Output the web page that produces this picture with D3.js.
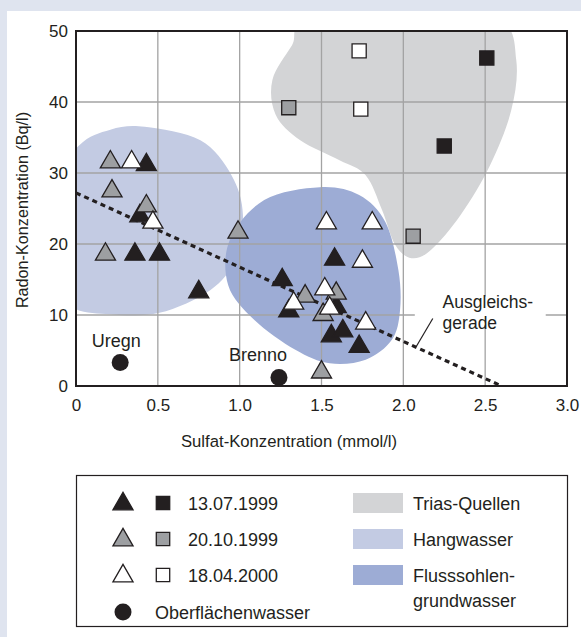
<!DOCTYPE html>
<html>
<head>
<meta charset="utf-8">
<script src="https://cdn.jsdelivr.net/npm/d3@7"></script>
<style>
	body { margin: 0; background: #ffffff; }
	svg { display: block; font-family: "Liberation Sans", Arial, sans-serif; }
</style>
</head>
<body>
<div id="chart"></div>
<script>
// Triangles (Flusssohlen / Hangwasser samples), [sulfat mmol/l, radon Bq/l]
const triangles1999Jul = [[0.43, 31], [0.39, 23.8], [0.36, 18.4], [0.51, 18.4], [0.75, 13.1], [1.26, 14.8], [1.3, 10.4], [1.58, 17.7], [1.59, 11], [1.56, 6.9], [1.63, 7.6], [1.73, 5.4]];
const triangles1999Oct = [[0.21, 31.4], [0.22, 27.3], [0.43, 25.2], [0.18, 18.4], [0.99, 21.5], [1.4, 12.5], [1.59, 12.9], [1.51, 9.9], [1.5, 1.8]];
const triangles2000Apr = [[0.34, 31.4], [0.47, 22.9], [1.53, 22.8], [1.81, 22.8], [1.75, 17.4], [1.33, 11.5], [1.52, 13.5], [1.55, 10.8], [1.77, 8.7]];
// Squares (Trias-Quellen)
const squares1999Jul = [[2.51, 46.2], [2.25, 33.8]];
const squares1999Oct = [[1.3, 39.2], [2.06, 21.1]];
const squares2000Apr = [[1.73, 47.2], [1.74, 39]];
// Oberflaechenwasser
const surfaceWater = [{ name: "Uregn", x: 0.27, y: 3.3 }, { name: "Brenno", x: 1.24, y: 1.2 }];
// Ausgleichsgerade end points
const regression = [[0, 27.2], [2.6, 0]];

// outlines of the shaded zones (data coordinates)
const triasZone = [[1.42, 51.5], [2.1, 52.3], [2.59, 51.5], [2.69, 45.9], [2.66, 38.9], [2.53, 31.1], [2.35, 24.1], [2.17, 19.2], [2.05, 18], [1.95, 19.9], [1.87, 24.8], [1.77, 29.7], [1.61, 31.8], [1.37, 34.6], [1.22, 38.2], [1.2, 43.1], [1.32, 48]];
const hangZone = [[0.42, 36.5], [0.76, 34.6], [0.95, 29.7], [1.02, 24.1], [0.97, 17.7], [0.82, 13.5], [0.51, 10.3], [0.21, 10.1], [-0.04, 11.4], [-0.16, 17.7], [-0.16, 27.6], [0.02, 33.9], [0.21, 36.1]];
const flussZone = [[1.49, 28], [1.73, 26.9], [1.89, 23.1], [1.97, 16.3], [1.98, 10.7], [1.93, 6.5], [1.77, 3.7], [1.55, 3.2], [1.34, 5.1], [1.09, 9.3], [0.93, 14.2], [0.94, 20.6], [1.15, 26.2]];

const xTicks = [0, 0.5, 1.0, 1.5, 2.0, 2.5, 3.0];
const yTicks = [0, 10, 20, 30, 40, 50];
const dateLabels = ["13.07.1999", "20.10.1999", "18.04.2000"];
const zoneLabels = [["Trias-Quellen"], ["Hangwasser"], ["Flusssohlen-", "grundwasser"]];

const dark = "#231f20";
const markerFills = [dark, "#9d9fa2", "#ffffff"];
const zoneFills = ["#d3d4d6", "#c3cbe3", "#9dacd5"];

const width = 581, height = 637;
const margin = { left: 76, right: 14, top: 31, bottom: 251 };

const svg = d3.select("#chart").append("svg").attr("width", width).attr("height", height);

// light frame along top and left
svg.append("rect").attr("width", width).attr("height", height).attr("fill", "#dfe4ef");
svg.append("rect").attr("x", 7).attr("y", 11).attr("width", width - 7).attr("height", height - 11).attr("fill", "#ffffff");

const x = d3.scaleLinear().domain([0, 3]).range([margin.left, width - margin.right]);
const y = d3.scaleLinear().domain([0, 50]).range([height - margin.bottom, margin.top]);

svg.append("clipPath").attr("id", "plot-clip")
	.append("rect")
	.attr("x", x(0)).attr("y", y(50))
	.attr("width", x(3) - x(0)).attr("height", y(0) - y(50));

const plot = svg.append("g").attr("clip-path", "url(#plot-clip)");

const blob = d3.line().x((d) => x(d[0])).y((d) => y(d[1])).curve(d3.curveCardinalClosed.tension(0));
[triasZone, hangZone, flussZone].forEach((zone, i) => {
	plot.append("path").attr("d", blob(zone)).attr("fill", zoneFills[i]);
});

// grid
const grid = svg.append("g").attr("stroke", "#a3a3a3").attr("stroke-width", 1.3);
grid.selectAll(".gx").data(xTicks.slice(1, -1)).enter().append("line")
	.attr("x1", (d) => x(d)).attr("x2", (d) => x(d)).attr("y1", y(0)).attr("y2", y(50));
grid.selectAll(".gy").data(yTicks.slice(1, -1)).enter().append("line")
	.attr("x1", x(0)).attr("x2", x(3)).attr("y1", (d) => y(d)).attr("y2", (d) => y(d));

// label for the regression line, knocks out the grid behind it
const fitLabel = svg.append("g");
fitLabel.append("rect").attr("x", x(2.07)).attr("y", y(12.6)).attr("width", x(2.87) - x(2.07)).attr("height", y(8.6) - y(12.6)).attr("fill", "#ffffff");
fitLabel.append("text").attr("x", x(2.24)).attr("y", y(11)).attr("font-size", 17.5).attr("fill", dark).text("Ausgleichs-");
fitLabel.append("text").attr("x", x(2.24)).attr("y", y(8.0)).attr("font-size", 17.5).attr("fill", dark).text("gerade");
svg.append("line")
	.attr("x1", x(2.18)).attr("y1", y(9.5)).attr("x2", x(2.08)).attr("y2", y(5.6))
	.attr("stroke", dark).attr("stroke-width", 1.2);

// regression line
svg.append("path")
	.attr("d", d3.line().x((d) => x(d[0])).y((d) => y(d[1]))(regression))
	.attr("fill", "none").attr("stroke", dark).attr("stroke-width", 3.2)
	.attr("stroke-dasharray", "5,4");

// frame
svg.append("rect")
	.attr("x", x(0)).attr("y", y(50)).attr("width", x(3) - x(0)).attr("height", y(0) - y(50))
	.attr("fill", "none").attr("stroke", dark).attr("stroke-width", 2);

// axes
const xAxis = d3.axisBottom(x).tickValues(xTicks).tickSize(0).tickPadding(13).tickFormat((d) => (d === 0 ? "0" : d3.format(".1f")(d)));
svg.append("g").attr("transform", `translate(0,${y(0)})`).call(xAxis)
	.call((g) => g.select(".domain").remove())
	.selectAll("text").attr("font-size", 17).attr("fill", dark).attr("font-family", "Liberation Sans, Arial, sans-serif");

const yAxis = d3.axisLeft(y).tickValues(yTicks).tickSize(0).tickPadding(8);
svg.append("g").attr("transform", `translate(${x(0)},0)`).call(yAxis)
	.call((g) => g.select(".domain").remove())
	.selectAll("text").attr("font-size", 17).attr("fill", dark).attr("font-family", "Liberation Sans, Arial, sans-serif");

svg.append("text").attr("x", 289).attr("y", 447).attr("text-anchor", "middle")
	.attr("font-size", 16.7).attr("fill", dark).text("Sulfat-Konzentration (mmol/l)");
svg.append("text").attr("transform", "translate(28,210) rotate(-90)").attr("text-anchor", "middle")
	.attr("font-size", 16.2).attr("fill", dark).text("Radon-Konzentration (Bq/l)");

// markers
const tri = d3.symbol(d3.symbolTriangle, 175);
const sq = d3.symbol(d3.symbolSquare, 200);

[squares1999Jul, squares1999Oct, squares2000Apr].forEach((series, i) => {
	svg.append("g").selectAll("path").data(series).enter().append("path")
		.attr("d", sq).attr("transform", (d) => `translate(${x(d[0])},${y(d[1])})`)
		.attr("fill", markerFills[i]).attr("stroke", dark).attr("stroke-width", 1.3);
});

[triangles1999Jul, triangles1999Oct, triangles2000Apr].forEach((series, i) => {
	svg.append("g").selectAll("path").data(series).enter().append("path")
		.attr("d", tri).attr("transform", (d) => `translate(${x(d[0])},${y(d[1]) - 1})`)
		.attr("fill", markerFills[i]).attr("stroke", dark).attr("stroke-width", 1.3).attr("stroke-linejoin", "miter");
});

const surf = svg.append("g");
surf.selectAll("circle").data(surfaceWater).enter().append("circle")
	.attr("cx", (d) => x(d.x)).attr("cy", (d) => y(d.y)).attr("r", 8.5).attr("fill", dark);
surf.selectAll("text").data(surfaceWater).enter().append("text")
	.attr("x", (d) => x(d.x) + (d.name === "Uregn" ? -4 : -21))
	.attr("y", (d) => y(d.y) - 16)
	.attr("text-anchor", "middle").attr("font-size", 18).attr("fill", dark)
	.text((d) => d.name);

// legend
const legend = svg.append("g");
legend.append("rect").attr("x", 76.5).attr("y", 475.5).attr("width", 491).attr("height", 151)
	.attr("fill", "#ffffff").attr("stroke", dark).attr("stroke-width", 1.2);

const rowY = [503, 539, 575];
dateLabels.forEach((label, i) => {
	legend.append("path").attr("d", tri).attr("transform", `translate(123,${rowY[i] + 1})`)
		.attr("fill", markerFills[i]).attr("stroke", dark).attr("stroke-width", 1.3);
	legend.append("path").attr("d", d3.symbol(d3.symbolSquare, 180)).attr("transform", `translate(163,${rowY[i]})`)
		.attr("fill", markerFills[i]).attr("stroke", dark).attr("stroke-width", 1.3);
	legend.append("text").attr("x", 188).attr("y", rowY[i] + 6.5).attr("font-size", 18).attr("fill", dark).text(label);
});
legend.append("circle").attr("cx", 123).attr("cy", 612).attr("r", 8.5).attr("fill", dark);
legend.append("text").attr("x", 155).attr("y", 618.5).attr("font-size", 18).attr("fill", dark).text("Oberflächenwasser");

zoneLabels.forEach((lines, i) => {
	legend.append("rect").attr("x", 353).attr("y", rowY[i] - 10).attr("width", 50).attr("height", 20).attr("fill", zoneFills[i]);
	lines.forEach((line, j) => {
		legend.append("text").attr("x", 413).attr("y", rowY[i] + 6.5 + j * 25).attr("font-size", 18).attr("fill", dark).text(line);
	});
});
</script>
</body>
</html>
